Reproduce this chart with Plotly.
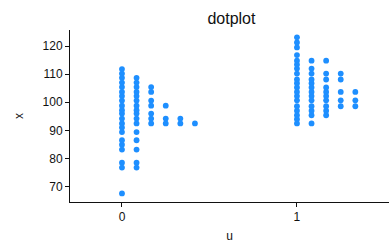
import plotly.graph_objects as go

# group 0 rows: y value of each dot row and number of stacked dots
rows_y0 = [67.6, 76.8, 78.5, 83.2, 84.9, 86.5, 89.4, 91.0, 92.5, 94.2, 96.0, 97.2,
           98.8, 100.6, 102.2, 103.7, 105.4, 107.0, 108.7, 110.2, 111.8]
counts0 = [1, 2, 2, 2, 1, 2, 2, 1, 6, 5, 3, 2, 4, 3, 2, 3, 3, 2, 2, 1, 1]

# group 1 rows
rows_y1 = [92.5, 94.0, 95.4, 97.0, 98.6, 100.7, 102.2, 103.7, 105.3, 106.8, 108.1,
           110.2, 112.0, 113.4, 114.8, 116.8, 119.5, 121.3, 123.1]
counts1 = [2, 1, 3, 3, 5, 5, 3, 5, 3, 2, 4, 4, 2, 1, 3, 1, 1, 1, 1]

groups = [0, 1]
x_ticks = [0, 1]
y_ticks = [70, 80, 90, 100, 110, 120]
stack_step = 0.0834

xs, ys = [], []
for g, rows, counts in [(0, rows_y0, counts0), (1, rows_y1, counts1)]:
    for y, c in zip(rows, counts):
        for k in range(c):
            xs.append(g + k * stack_step)
            ys.append(y)

fig = go.Figure(go.Scatter(
    x=xs, y=ys, mode="markers",
    marker=dict(size=5.8, color="#1E8FFF", line=dict(width=0)),
    hoverinfo="skip", showlegend=False,
))

font = "Liberation Sans, Arial, Helvetica, sans-serif"
fig.update_layout(
    width=389, height=244,
    margin=dict(l=70, r=0, t=30, b=42),
    paper_bgcolor="white", plot_bgcolor="white",
    font=dict(family=font, size=12, color="#111111"),
    title=dict(text="dotplot", x=0.595, xanchor="center", y=0.925, yanchor="middle",
               font=dict(size=16, color="#111111")),
    xaxis=dict(
        range=[-0.297, 1.526], tickvals=x_ticks, ticktext=[str(v) for v in x_ticks],
        showgrid=False, zeroline=False, showline=True, linecolor="#111111", linewidth=1,
        ticks="outside", ticklen=4, tickcolor="#111111", automargin=False,
        title=dict(text="u", standoff=8, font=dict(size=12)),
    ),
    yaxis=dict(
        range=[64.55, 125.7], tickvals=y_ticks,
        showgrid=False, zeroline=False, showline=True, linecolor="#111111", linewidth=1,
        ticks="outside", ticklen=4, tickcolor="#111111", automargin=False,
        title=dict(text="x", standoff=16, font=dict(size=12)),
    ),
)

fig.write_html("out.html", config={"displayModeBar": False},
               post_script="document.body.style.margin='0';")
